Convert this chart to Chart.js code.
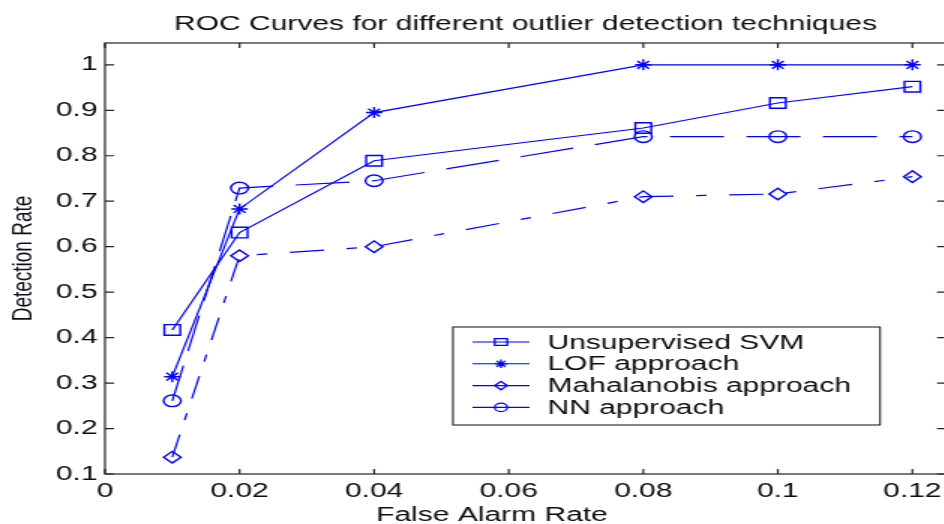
<!DOCTYPE html>
<html>
<head>
<meta charset="utf-8">
<script src="https://cdn.jsdelivr.net/npm/chart.js@4.4.1/dist/chart.umd.min.js"></script>
<style>
  html,body{margin:0;padding:0;background:#fff;overflow:hidden;width:944px;height:524px;}
  #wrap{width:640px;height:524px;transform:scaleX(1.5);transform-origin:0 0;}
  #roc{display:block;}
</style>
</head>
<body>
<div id="wrap"><canvas id="roc" width="640" height="524"></canvas></div>
<script>
// ===== data =====
const falseAlarm   = [0.01, 0.02, 0.04, 0.08, 0.1, 0.12];
const svmRate      = [0.417, 0.631, 0.789, 0.861, 0.916, 0.952];
const lofRate      = [0.314, 0.683, 0.895, 1.0, 1.0, 1.0];
const mahalRate    = [0.137, 0.580, 0.600, 0.710, 0.716, 0.754];
const nnRate       = [0.261, 0.729, 0.745, 0.842, 0.842, 0.842];
const seriesNames  = ['Unsupervised SVM', 'LOF approach', 'Mahalanobis approach', 'NN approach'];
const xTicks       = [0, 0.02, 0.04, 0.06, 0.08, 0.1, 0.12];
const xTickLabels  = ['0', '0.02', '0.04', '0.06', '0.08', '0.1', '0.12'];
const yTicks       = [0.1, 0.2, 0.3, 0.4, 0.5, 0.6, 0.7, 0.8, 0.9, 1];
const yTickLabels  = ['0.1', '0.2', '0.3', '0.4', '0.5', '0.6', '0.7', '0.8', '0.9', '1'];
const xAxisTitle   = 'False Alarm Rate';

const FONT = "'Liberation Sans', Arial, sans-serif";
const BLUE = '#0000ff';
const INK  = '#0d0d14';

function pts(ys){ return falseAlarm.map((x,i)=>({x:x, y:ys[i]})); }

function mk(label, ys, style, radius, dash){
  return {
    label: label, data: pts(ys),
    borderColor: BLUE, borderWidth: 1.2, borderDash: dash,
    pointStyle: style, pointRadius: radius,
    pointBorderColor: BLUE, pointBackgroundColor: 'rgba(0,0,0,0)', pointBorderWidth: 1.4,
    tension: 0, fill: false
  };
}

// draws one marker (legend only)
function drawMarker(ctx, style, x, y, r){
  ctx.beginPath();
  if (style === 'rect'){
    ctx.rect(x-r, y-r*0.8, 2*r, 1.6*r);
  } else if (style === 'rectRot'){
    ctx.moveTo(x, y-r); ctx.lineTo(x+r, y); ctx.lineTo(x, y+r); ctx.lineTo(x-r, y); ctx.closePath();
  } else if (style === 'circle'){
    ctx.arc(x, y, r, 0, Math.PI*2);
  } else if (style === 'star'){
    ctx.moveTo(x-r, y); ctx.lineTo(x+r, y);
    ctx.moveTo(x, y-r); ctx.lineTo(x, y+r);
    const d = r*0.7;
    ctx.moveTo(x-d, y-d); ctx.lineTo(x+d, y+d);
    ctx.moveTo(x-d, y+d); ctx.lineTo(x+d, y-d);
  }
  ctx.stroke();
}

// box, inward ticks on all four sides, x title, legend box
const matlabFrame = {
  id: 'matlabFrame',
  afterDraw(chart){
    const {ctx, chartArea: a, scales} = chart;
    ctx.save();
    ctx.strokeStyle = '#222';
    ctx.lineWidth = 1.2;
    ctx.strokeRect(a.left, a.top, a.right - a.left, a.bottom - a.top);
    ctx.beginPath();
    xTicks.forEach(v=>{
      const px = scales.x.getPixelForValue(v);
      ctx.moveTo(px, a.bottom); ctx.lineTo(px, a.bottom - 5);
      ctx.moveTo(px, a.top);    ctx.lineTo(px, a.top + 5);
    });
    yTicks.forEach(v=>{
      const py = scales.y.getPixelForValue(v);
      ctx.moveTo(a.left, py);  ctx.lineTo(a.left + 6, py);
      ctx.moveTo(a.right, py); ctx.lineTo(a.right - 6, py);
    });
    ctx.stroke();

    // x axis title (sits a bit left of the axis centre in the original)
    ctx.fillStyle = INK;
    ctx.font = '20px ' + FONT;
    ctx.textAlign = 'center';
    ctx.textBaseline = 'alphabetic';
    ctx.fillText(xAxisTitle, 328, 521);

    // legend
    const bx = 302, by = 327, bw = 284.7, bh = 98;
    ctx.fillStyle = '#fff';
    ctx.fillRect(bx, by, bw, bh);
    ctx.strokeStyle = '#222';
    ctx.lineWidth = 1.1;
    ctx.strokeRect(bx, by, bw, bh);
    ctx.font = '20px ' + FONT;
    ctx.textBaseline = 'middle';
    ctx.textAlign = 'left';
    chart.data.datasets.forEach((ds,i)=>{
      const y = 342 + i*21.8;
      ctx.strokeStyle = BLUE;
      ctx.lineWidth = 1.1;
      ctx.setLineDash([]);
      ctx.beginPath(); ctx.moveTo(315, y); ctx.lineTo(353, y); ctx.stroke();
      ctx.lineWidth = 1.3;
      ctx.fillStyle = '#fff';
      drawMarker(ctx, ds.pointStyle, 334, y, 4.2);
      ctx.fillStyle = INK;
      ctx.fillText(ds.label, 365, y + 1);
    });
    ctx.restore();
  }
};

new Chart(document.getElementById('roc'), {
  type: 'line',
  data: {
    datasets: [
      mk(seriesNames[0], svmRate,   'rect',    7.5, []),
      mk(seriesNames[1], lofRate,   'star',    5.5, []),
      mk(seriesNames[2], mahalRate, 'rectRot', 5.8, [23, 15, 7, 15]),
      mk(seriesNames[3], nnRate,    'circle',  5.8, [36, 15])
    ]
  },
  options: {
    responsive: false,
    animation: false,
    devicePixelRatio: 1,
    layout: { padding: { top: 0, right: 9.3, left: 0, bottom: 0 } },
    plugins: {
      legend: { display: false },
      tooltip: { enabled: false },
      title: {
        display: true, fullSize: false,
        text: 'ROC Curves for different outlier detection techniques',
        color: INK, font: { family: FONT, size: 20, weight: 'normal' },
        padding: { top: 12, bottom: 7 }
      }
    },
    scales: {
      x: {
        type: 'linear', min: 0, max: 0.125,
        grid: { display: false, drawTicks: false, tickLength: 0 },
        border: { display: false },
        afterBuildTicks: s => { s.ticks = xTicks.map(v=>({value:v})); },
        afterFit: s => { s.height = 50; },
        ticks: {
          padding: 5, color: INK, font: { family: FONT, size: 20 },
          maxRotation: 0, autoSkip: false,
          callback: v => { const i = xTicks.indexOf(v); return i >= 0 ? xTickLabels[i] : ''; }
        }
      },
      y: {
        type: 'linear', min: 0.1, max: 1.048,
        grid: { display: false, drawTicks: false, tickLength: 0 },
        border: { display: false },
        afterBuildTicks: s => { s.ticks = yTicks.map(v=>({value:v})); },
        afterFit: s => { s.width = 70; },
        ticks: {
          padding: 5, color: INK, font: { family: FONT, size: 20 }, autoSkip: false,
          callback: v => { const i = yTicks.findIndex(t => Math.abs(t - v) < 1e-9); return i >= 0 ? yTickLabels[i] : ''; }
        },
        title: {
          display: true, text: 'Detection Rate', color: INK,
          font: { family: FONT, size: 19 }, padding: { top: 4, bottom: 0 }
        }
      }
    }
  },
  plugins: [matlabFrame]
});
</script>
</body>
</html>
